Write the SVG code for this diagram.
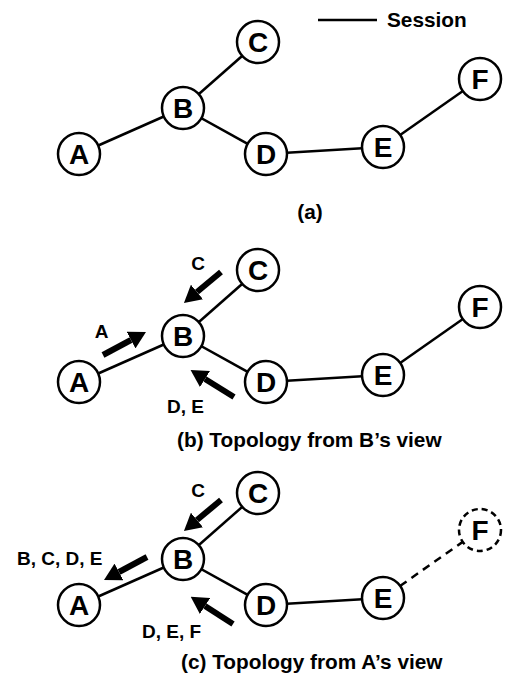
<svg xmlns="http://www.w3.org/2000/svg" width="508" height="673" viewBox="0 0 508 673">
<style>
  .edge { stroke: #000; stroke-width: 2.5; fill: none; }
  .dash { stroke-dasharray: 8 6; }
  .node circle { fill: #fff; stroke: #000; stroke-width: 2.5; }
  .node text { font-family: "Liberation Sans", Arial, sans-serif; font-weight: bold; font-size: 28px; text-anchor: middle; fill: #000; }
  .ghost circle { stroke-dasharray: 6 4; }
  .arrow { stroke: #000; stroke-width: 6; fill: none; marker-end: url(#head); }
  .lbl { font-family: "Liberation Sans", Arial, sans-serif; font-weight: bold; font-size: 19px; fill: #000; }
  .cap { font-family: "Liberation Sans", Arial, sans-serif; font-weight: bold; font-size: 20.8px; fill: #000; }
</style>
<defs>
  <marker id="head" markerUnits="userSpaceOnUse" viewBox="0 0 17 19" markerWidth="17" markerHeight="19" refX="0" refY="9.5" orient="auto">
    <path d="M0,0 L17,9.5 L0,19 Z" fill="#000"/>
  </marker>
</defs>
<rect width="508" height="673" fill="#fff"/>

<g id="legend">
  <line class="edge" x1="318" y1="20" x2="377" y2="20"/>
  <text class="cap" x="387" y="27">Session</text>
</g>

<g id="connectors">
  <!-- panel a -->
  <line class="edge" x1="79" y1="154" x2="183" y2="108"/>
  <line class="edge" x1="183" y1="108" x2="258" y2="42"/>
  <line class="edge" x1="183" y1="108" x2="266" y2="154"/>
  <line class="edge" x1="266" y1="154" x2="383" y2="147"/>
  <line class="edge" x1="383" y1="147" x2="480" y2="79"/>
  <!-- panel b -->
  <line class="edge" x1="79" y1="382" x2="183" y2="336"/>
  <line class="edge" x1="183" y1="336" x2="258" y2="270"/>
  <line class="edge" x1="183" y1="336" x2="266" y2="382"/>
  <line class="edge" x1="266" y1="382" x2="383" y2="375"/>
  <line class="edge" x1="383" y1="375" x2="480" y2="307"/>
  <!-- panel c -->
  <line class="edge" x1="79" y1="605" x2="183" y2="559"/>
  <line class="edge" x1="183" y1="559" x2="258" y2="493"/>
  <line class="edge" x1="183" y1="559" x2="266" y2="605"/>
  <line class="edge" x1="266" y1="605" x2="383" y2="598"/>
  <line class="edge dash" x1="400" y1="586" x2="464" y2="541"/>
  <!-- update arrows -->
  <line class="arrow" x1="221" y1="272" x2="197" y2="292"/>
  <line class="arrow" x1="103" y1="355" x2="131" y2="340"/>
  <line class="arrow" x1="234" y1="397" x2="205" y2="379"/>
  <line class="arrow" x1="221" y1="500" x2="197" y2="520"/>
  <line class="arrow" x1="147" y1="557" x2="119" y2="572"/>
  <line class="arrow" x1="233" y1="624" x2="205" y2="606"/>
</g>

<g id="labels">
  <text class="lbl" x="198" y="269.5" text-anchor="middle">C</text>
  <text class="lbl" x="101.5" y="337.5" text-anchor="middle">A</text>
  <text class="lbl" x="167" y="412.5">D, E</text>
  <text class="lbl" x="198" y="496.5" text-anchor="middle">C</text>
  <text class="lbl" x="17" y="565">B, C, D, E</text>
  <text class="lbl" x="142" y="638">D, E, F</text>
  <text class="cap" x="310" y="219" text-anchor="middle">(a)</text>
  <text class="cap" x="177" y="447">(b) Topology from B’s view</text>
  <text class="cap" x="181" y="669">(c) Topology from A’s view</text>
</g>

<g id="a-A" class="node"><circle cx="79" cy="154" r="21"/><text x="79" y="164">A</text></g>
<g id="a-B" class="node"><circle cx="183" cy="108" r="21"/><text x="183" y="118">B</text></g>
<g id="a-C" class="node"><circle cx="258" cy="42" r="21"/><text x="258" y="52">C</text></g>
<g id="a-D" class="node"><circle cx="266" cy="154" r="21"/><text x="266" y="164">D</text></g>
<g id="a-E" class="node"><circle cx="383" cy="147" r="21"/><text x="383" y="157">E</text></g>
<g id="a-F" class="node"><circle cx="480" cy="79" r="21"/><text x="480" y="89">F</text></g>

<g id="b-A" class="node"><circle cx="79" cy="382" r="21"/><text x="79" y="392">A</text></g>
<g id="b-B" class="node"><circle cx="183" cy="336" r="21"/><text x="183" y="346">B</text></g>
<g id="b-C" class="node"><circle cx="258" cy="270" r="21"/><text x="258" y="280">C</text></g>
<g id="b-D" class="node"><circle cx="266" cy="382" r="21"/><text x="266" y="392">D</text></g>
<g id="b-E" class="node"><circle cx="383" cy="375" r="21"/><text x="383" y="385">E</text></g>
<g id="b-F" class="node"><circle cx="480" cy="307" r="21"/><text x="480" y="317">F</text></g>

<g id="c-A" class="node"><circle cx="79" cy="605" r="21"/><text x="79" y="615">A</text></g>
<g id="c-B" class="node"><circle cx="183" cy="559" r="21"/><text x="183" y="569">B</text></g>
<g id="c-C" class="node"><circle cx="258" cy="493" r="21"/><text x="258" y="503">C</text></g>
<g id="c-D" class="node"><circle cx="266" cy="605" r="21"/><text x="266" y="615">D</text></g>
<g id="c-E" class="node"><circle cx="383" cy="598" r="21"/><text x="383" y="608">E</text></g>
<g id="c-F" class="node ghost"><circle cx="480" cy="530" r="21"/><text x="480" y="540">F</text></g>
</svg>
